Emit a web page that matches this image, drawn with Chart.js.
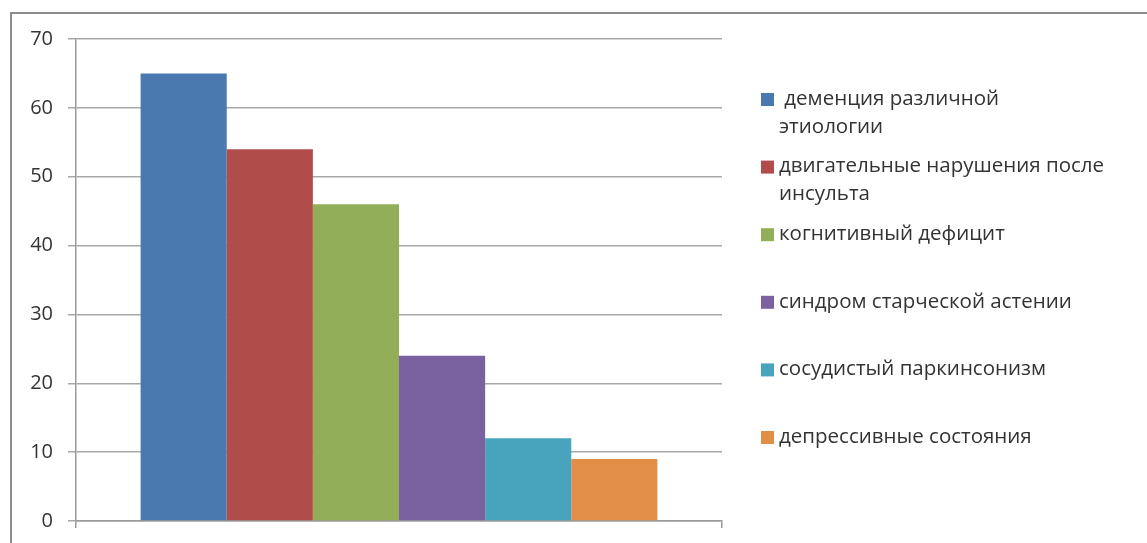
<!DOCTYPE html>
<html lang="ru">
<head>
<meta charset="utf-8">
<title>Структура заболеваний</title>
<script src="https://cdn.jsdelivr.net/npm/chart.js@4"></script>
<style>
  html, body { margin: 0; padding: 0; background: #fff; overflow: hidden; }
  body { width: 1147px; height: 543px; position: relative; }
  .frame {
    position: absolute; left: 10px; top: 12px; width: 1200px; height: 600px;
    border-top: 2px solid #8c8c8c; border-left: 2px solid #8c8c8c;
  }
  #chart { position: absolute; left: 0; top: 0; }
</style>
</head>
<body>
<div class="frame"></div>
<canvas id="chart" width="1147" height="543"></canvas>
<script>
// one group of bars, one dataset per diagnosis
const categories = [""];
const diagnoses = [
  [" деменция различной", "этиологии"],
  ["двигательные нарушения после", "инсульта"],
  ["когнитивный дефицит"],
  ["синдром старческой астении"],
  ["сосудистый паркинсонизм"],
  ["депрессивные состояния"]
];
const values = [65, 54, 46, 24, 12, 9];
const colors = ["#4a79b0", "#b04c4a", "#93ae58", "#7a61a0", "#48a4bc", "#e38e47"];
const yTicks = [0, 10, 20, 30, 40, 50, 60, 70];

const textColor = "#333333";
const fontFamily = "'Open Sans', 'DejaVu Sans', sans-serif";

// legend to the right of the plot, labels wrapped on several lines
const sideLegend = {
  id: "sideLegend",
  afterDraw(chart) {
    const ctx = chart.ctx;
    const area = chart.chartArea;
    const boxX = area.right + 39;
    const textX = boxX + 18;
    const firstY = 99;
    const step = 67.6;
    const lineH = 28;
    ctx.save();
    ctx.font = "20.5px " + fontFamily;
    ctx.textBaseline = "middle";
    ctx.textAlign = "left";
    chart.data.datasets.forEach((ds, i) => {
      const y = firstY + i * step;
      ctx.fillStyle = ds.backgroundColor;
      ctx.fillRect(boxX, y - 6, 13, 13);
      ctx.fillStyle = textColor;
      ds.lines.forEach((line, j) => {
        ctx.fillText(line, textX, y + j * lineH);
      });
    });
    ctx.restore();
  }
};

const datasets = diagnoses.map((lines, i) => ({
  label: lines.join(" ").trim(),
  lines: lines,
  data: [values[i]],
  backgroundColor: colors[i],
  borderWidth: 0,
  barPercentage: 1,
  categoryPercentage: 0.8
}));

new Chart(document.getElementById("chart"), {
  type: "bar",
  data: { labels: categories, datasets },
  plugins: [sideLegend],
  options: {
    responsive: false,
    animation: false,
    layout: { padding: { left: 0, top: 39, right: 425, bottom: 0 } },
    plugins: {
      legend: { display: false },
      tooltip: { enabled: false }
    },
    scales: {
      x: {
        offset: true,
        grid: { offset: true, drawOnChartArea: false, drawTicks: true, tickLength: 7, color: "#9a9a9a", lineWidth: 1.5 },
        border: { color: "#9a9a9a", width: 1.5 },
        ticks: { display: false },
        afterFit(scale) { scale.height = 22; }
      },
      y: {
        min: 0,
        max: 70,
        afterBuildTicks(scale) { scale.ticks = yTicks.map(v => ({ value: v })); },
        grid: { color: "#a8a8a8", lineWidth: 1.5, tickLength: 8 },
        border: { color: "#9a9a9a", width: 1.5 },
        ticks: { padding: 15, color: textColor, font: { family: fontFamily, size: 20 } },
        afterFit(scale) {
          scale.width = 76;
          scale.paddingTop = 0;
          scale.paddingBottom = 0;
        }
      }
    }
  }
});
</script>
</body>
</html>
